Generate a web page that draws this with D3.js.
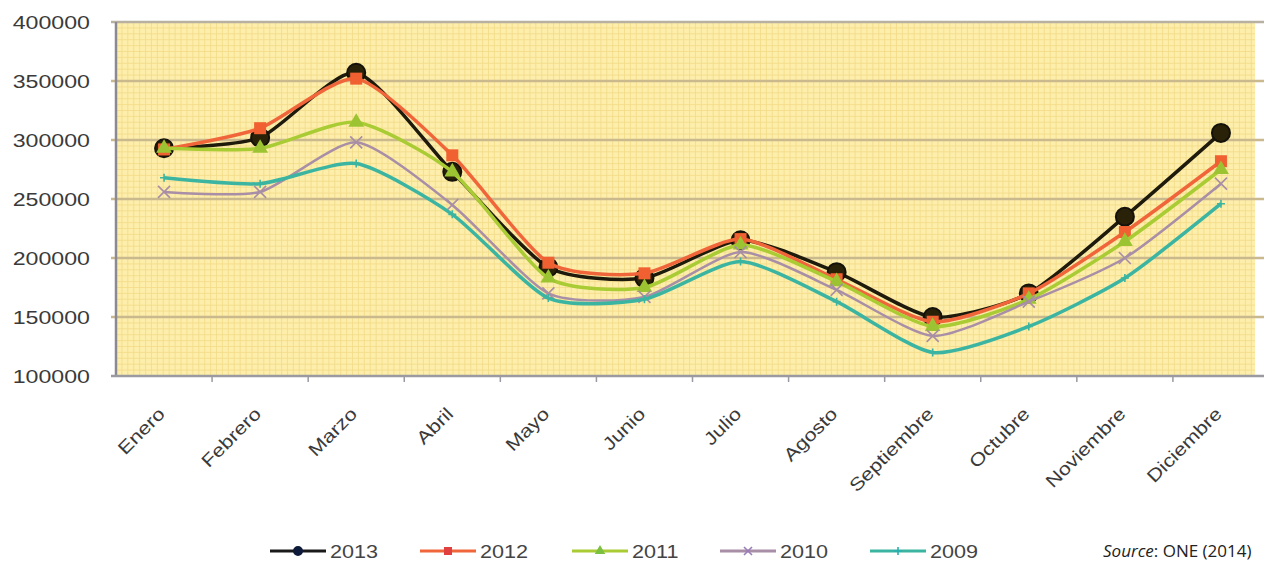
<!DOCTYPE html>
<html>
<head>
<meta charset="utf-8">
<script src="https://cdn.jsdelivr.net/npm/d3@7"></script>
<style>
  body { margin: 0; background: #fff; }
  svg { display: block; }
</style>
</head>
<body>
<div id="chart-area"></div>
<script>
// data
var months = ["Enero", "Febrero", "Marzo", "Abril", "Mayo", "Junio", "Julio",
    "Agosto", "Septiembre", "Octubre", "Noviembre", "Diciembre"];
var years = ["2013", "2012", "2011", "2010", "2009"];
var v2013 = [293000, 302000, 357000, 273000, 192000, 183000, 215000, 188000, 150000, 170000, 235000, 306000];
var v2012 = [292000, 310000, 352000, 287000, 196000, 187000, 216000, 182000, 146000, 170000, 222000, 282000];
var v2011 = [293000, 293000, 315000, 273000, 183000, 175000, 211000, 180000, 142000, 165000, 214000, 275000];
var v2010 = [256000, 256000, 298000, 245000, 170000, 167000, 205000, 173000, 134000, 163000, 200000, 263000];
var v2009 = [268000, 263000, 280000, 237000, 166000, 165000, 197000, 163000, 120000, 142000, 183000, 246000];
var yTicks = [100000, 150000, 200000, 250000, 300000, 350000, 400000];

var seriesValues = [v2013, v2012, v2011, v2010, v2009];
var colors = ["#1e1a0c", "#f0663a", "#a9cb34", "#a88ea6", "#3bb5a2"];
var markerFill = ["#2a2208", "#f06030", "#9cc432", "#a88ea6", "#3bb5a2"];
var legendMarkerFill = ["#0d1a3a", "#e04040", "#7cc040", "#9a7cb8", "#2ab0b0"];
var shapes = ["circle", "square", "triangle", "cross", "star"];

var width = 1264, height = 565;
var margin = {left: 116, top: 22};
var plotW = 1153, plotH = 354;
var yellowEnd = 1255;

var svg = d3.select("#chart-area").append("svg")
    .attr("width", width)
    .attr("height", height);

var x = d3.scaleBand()
    .domain(months)
    .range([margin.left, margin.left + plotW]);

var y = d3.scaleLinear()
    .domain([100000, 400000])
    .range([margin.top + plotH, margin.top]);

// background
svg.append("rect")
    .attr("x", margin.left)
    .attr("y", margin.top)
    .attr("width", yellowEnd - margin.left)
    .attr("height", plotH)
    .attr("fill", "#fdeeab");

// minor grid
var minor = svg.append("g").attr("class", "minor-grid");
minor.selectAll("line.h")
    .data(d3.range(100000, 400001, 5000))
    .enter().append("line")
    .attr("x1", margin.left).attr("x2", yellowEnd)
    .attr("y1", (d) => y(d)).attr("y2", (d) => y(d))
    .attr("stroke", "#f3da88").attr("stroke-width", 0.8);
var xMinor = d3.scaleLinear().domain([0, 195]).range([margin.left, margin.left + plotW]);
minor.selectAll("line.v")
    .data(d3.range(0, 195))
    .enter().append("line")
    .filter((d) => xMinor(d) < yellowEnd)
    .attr("x1", (d) => xMinor(d)).attr("x2", (d) => xMinor(d))
    .attr("y1", margin.top).attr("y2", margin.top + plotH)
    .attr("stroke", "#f3da88").attr("stroke-width", 0.8);

// major gridlines
svg.append("g")
    .selectAll("line")
    .data(yTicks.slice(1))
    .enter().append("line")
    .attr("x1", margin.left - 5).attr("x2", width)
    .attr("y1", (d) => y(d)).attr("y2", (d) => y(d))
    .attr("stroke", (d) => d === 400000 ? "#b8b0a0" : "#cbb98e")
    .attr("stroke-width", 2.5);

// axes lines
svg.append("line")
    .attr("x1", margin.left).attr("x2", margin.left)
    .attr("y1", margin.top).attr("y2", margin.top + plotH + 1)
    .attr("stroke", "#8a8a94").attr("stroke-width", 2.5);
svg.append("line")
    .attr("x1", margin.left - 5).attr("x2", width)
    .attr("y1", margin.top + plotH).attr("y2", margin.top + plotH)
    .attr("stroke", "#9a9aa0").attr("stroke-width", 2.5);
svg.append("g")
    .selectAll("line")
    .data(d3.range(1, 12))
    .enter().append("line")
    .attr("x1", (d) => margin.left + d * x.step())
    .attr("x2", (d) => margin.left + d * x.step())
    .attr("y1", margin.top + plotH).attr("y2", margin.top + plotH + 6)
    .attr("stroke", "#9a9aa0").attr("stroke-width", 1.5);

// y labels
svg.append("g")
    .selectAll("text")
    .data(yTicks)
    .enter().append("text")
    .attr("transform", (d) => "translate(90," + (y(d) + 7) + ") scale(1.22,1)")
    .attr("text-anchor", "end")
    .attr("font-family", "Liberation Sans, Arial, sans-serif")
    .attr("font-size", "19px")
    .attr("fill", "#3a3a3a")
    .text((d) => d);

// x labels
svg.append("g")
    .selectAll("text")
    .data(months)
    .enter().append("text")
    .attr("transform", (d) => "translate(" + (x(d) + x.bandwidth() / 2 + 2) + ",415) rotate(-45) scale(1.2,1)")
    .attr("text-anchor", "end")
    .attr("font-family", "Liberation Sans, Arial, sans-serif")
    .attr("font-size", "18px")
    .attr("fill", "#3a3a3a")
    .text((d) => d);

// markers
function drawMarker(sel, shape, size, fill, stroke) {
    if (shape === "circle") {
        sel.append("circle").attr("r", size).attr("fill", fill)
            .attr("stroke", stroke).attr("stroke-width", 2);
    } else if (shape === "square") {
        sel.append("rect").attr("x", -size).attr("y", -size)
            .attr("width", size * 2).attr("height", size * 2)
            .attr("fill", fill);
    } else if (shape === "triangle") {
        sel.append("path").attr("d", d3.symbol(d3.symbolTriangle, size * size * 3)())
            .attr("fill", fill);
    } else if (shape === "cross") {
        sel.append("path").attr("d", "M" + (-size) + "," + (-size) + "L" + size + "," + size +
            "M" + (-size) + "," + size + "L" + size + "," + (-size))
            .attr("stroke", fill).attr("stroke-width", 1.6);
    } else {
        sel.append("path").attr("d", "M" + (-size) + ",0L" + size + ",0M0," + (-size) + "L0," + size)
            .attr("stroke", fill).attr("stroke-width", 1.6);
    }
}

var line = d3.line()
    .x((d, i) => x(months[i]) + x.bandwidth() / 2)
    .y((d) => y(d))
    .curve(d3.curveCardinal.tension(0.35));

var sizes = [9, 6, 6, 6, 4];
var widths = [3.5, 3.5, 3.5, 2.5, 3.5];

seriesValues.forEach((vals, s) => {
    var g = svg.append("g").attr("class", "series s" + years[s]);
    g.append("path")
        .attr("d", line(vals))
        .attr("fill", "none")
        .attr("stroke", colors[s])
        .attr("stroke-width", widths[s])
        .attr("stroke-linejoin", "round");
    g.selectAll("g.mk")
        .data(vals)
        .enter().append("g")
        .attr("transform", (d, i) => "translate(" + (x(months[i]) + x.bandwidth() / 2) + "," + y(d) + ")")
        .each(function() {
            drawMarker(d3.select(this), shapes[s], sizes[s], markerFill[s], "#14120a");
        });
});

// legend
var legendX = [270, 420, 572, 720, 870];
var legend = svg.append("g");
years.forEach((yr, s) => {
    var lg = legend.append("g").attr("transform", "translate(" + legendX[s] + ",551)");
    lg.append("line").attr("x1", 0).attr("x2", 56).attr("y1", 0).attr("y2", 0)
        .attr("stroke", s === 0 ? "#1a1a1a" : colors[s]).attr("stroke-width", 3);
    var m = lg.append("g").attr("transform", "translate(28,0)");
    drawMarker(m, shapes[s], 4, legendMarkerFill[s], legendMarkerFill[s]);
    lg.append("text")
        .attr("transform", "translate(60,7) scale(1.2,1)")
        .attr("font-family", "Liberation Sans, Arial, sans-serif")
        .attr("font-size", "18px")
        .attr("fill", "#444")
        .text(yr);
});

// source
var src = svg.append("text")
    .attr("x", 1103)
    .attr("y", 557)
    .attr("font-family", "Open Sans, sans-serif")
    .attr("font-size", "17px")
    .attr("fill", "#222");
src.append("tspan").attr("font-style", "italic").text("Source");
src.append("tspan").text(": ONE (2014)");
</script>
</body>
</html>
